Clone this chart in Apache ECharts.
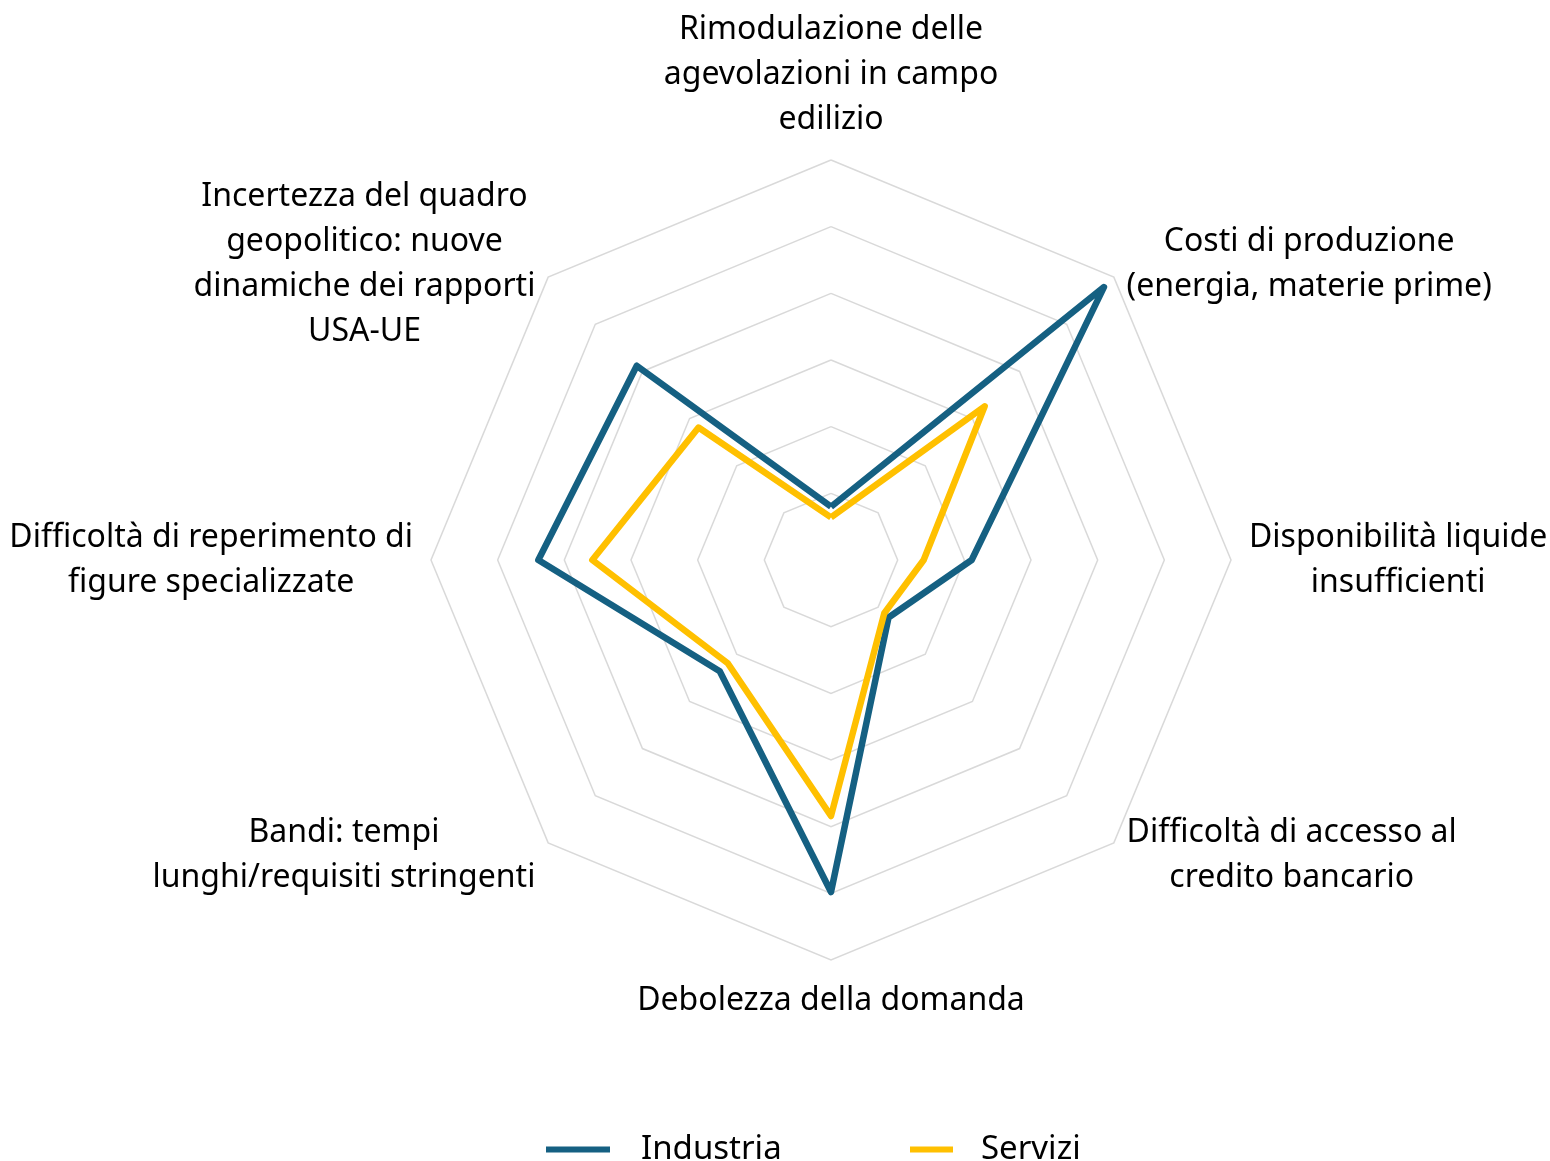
<!DOCTYPE html>
<html>
<head>
<meta charset="utf-8">
<script src="https://cdn.jsdelivr.net/npm/echarts@6/dist/echarts.min.js"></script>
<style>
  html, body { margin: 0; padding: 0; background: #fff; }
  #chart { width: 1550px; height: 1161px; }
</style>
</head>
<body>
<div id="chart"></div>
<script>
// categorie in senso orario partendo dall'alto
const categories = [
    'Rimodulazione delle\nagevolazioni in campo\nedilizio',
    'Costi di produzione\n(energia, materie prime)',
    'Disponibilità liquide\ninsufficienti',
    'Difficoltà di accesso al\ncredito bancario',
    'Debolezza della domanda',
    'Bandi: tempi\nlunghi/requisiti stringenti',
    'Difficoltà di reperimento di\nfigure specializzate',
    'Incertezza del quadro\ngeopolitico: nuove\ndinamiche dei rapporti\nUSA-UE'
];
const industria = [8, 57.9, 21.1, 12.2, 49.8, 23.6, 43.9, 41.2];
const servizi = [6.4, 32.6, 13.9, 11.3, 38.4, 21.9, 35.8, 28.1];
const maxValue = 60;

const font = '"Noto Sans", sans-serif';

// il radar di echarts dispone gli assi in senso antiorario
const ccw = a => [a[0]].concat(a.slice(1).reverse());

const chart = echarts.init(document.getElementById('chart'));
const option = {
    backgroundColor: '#ffffff',
    animation: false,
    legend: [{
        data: ['Industria'],
        left: 546,
        top: 1133,
        padding: 0,
        icon: 'rect',
        itemWidth: 64,
        itemHeight: 6,
        textStyle: { fontSize: 33, color: '#000', fontFamily: font, padding: [0, 0, 0, 26] }
    }, {
        data: ['Servizi'],
        left: 910,
        top: 1133,
        padding: 0,
        icon: 'rect',
        itemWidth: 43,
        itemHeight: 6,
        textStyle: { fontSize: 33, color: '#000', fontFamily: font, padding: [0, 0, 0, 23] }
    }],
    radar: {
        center: [831, 560],
        radius: 400,
        startAngle: 90,
        shape: 'polygon',
        splitNumber: 6,
        nameGap: 18,
        indicator: ccw(categories).map(n => ({ name: n, max: maxValue, min: 0 })),
        axisLine: { show: false },
        axisTick: { show: false },
        splitArea: { show: false },
        splitLine: { lineStyle: { color: '#d9d9d9', width: 1.5 } },
        axisName: {
            formatter: function (name) {
                return name.split('\n').map(l => '{c|' + l + '}').join('\n');
            },
            rich: {
                c: { align: 'center', fontSize: 32, lineHeight: 45, color: '#000', fontFamily: font }
            }
        }
    },
    series: [{
        type: 'radar',
        symbol: 'none',
        data: [{
            name: 'Industria',
            value: ccw(industria),
            itemStyle: { color: '#156082' },
            lineStyle: { color: '#156082', width: 6.5, join: 'round' }
        }, {
            name: 'Servizi',
            value: ccw(servizi),
            itemStyle: { color: '#ffc000' },
            lineStyle: { color: '#ffc000', width: 6.5, join: 'round' }
        }]
    }]
};
chart.setOption(option);
</script>
</body>
</html>
